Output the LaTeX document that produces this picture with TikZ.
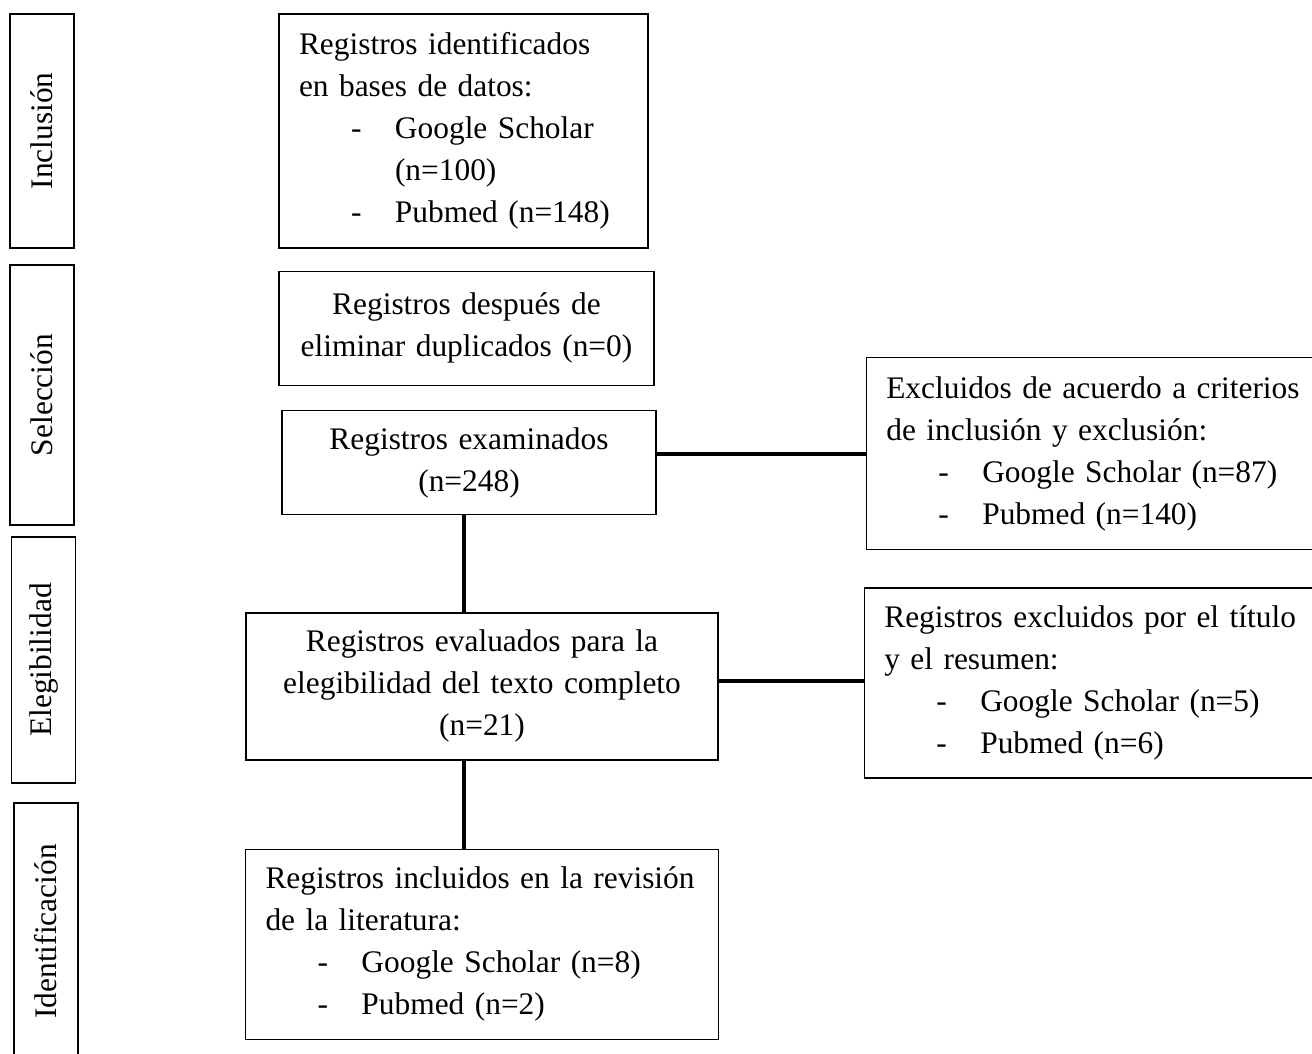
\documentclass[tikz,border=0pt]{standalone}
\usepackage{fontspec}
\setmainfont{Liberation Serif}
\usetikzlibrary{positioning}

\newcommand{\boxline}[1]{\mbox{#1}}
\newcommand{\itemline}[1]{\mbox{\makebox[48pt][l]{\hspace*{26pt}-}#1}}

\begin{document}
\begin{tikzpicture}[
    node distance=11pt,
    font=\fontsize{15.7}{21}\selectfont,
    stagebox/.style={draw=black, line width=0.9pt, rotate=90, inner sep=0pt,
                     minimum height=32pt},
    flowbox/.style={draw=black, line width=0.65pt, inner xsep=10pt, inner ysep=4pt},
    midbox/.style={flowbox, inner xsep=2pt, align=center},
    link/.style={line width=2pt}
]
\useasboundingbox (0,0) rectangle (656pt,-527pt);

% stages
\node[stagebox, minimum width=117pt] (inclusion) at (21pt,-65.5pt) {Inclusión};
\node[stagebox, minimum width=130pt] (seleccion) at (21pt,-197.5pt) {Selección};
\node[stagebox, minimum width=123pt] (elegibilidad) at (21.75pt,-330pt) {Elegibilidad};
\node[stagebox, minimum width=128.5pt] (identificacion) at (23pt,-465.75pt) {Identificación};

% main column
\node[flowbox, text width=164.5pt, minimum height=117pt, align=left] (ident) at (231.75pt,-65.5pt) {
    \boxline{Registros identificados}\\
    \boxline{en bases de datos:}\\
    \itemline{Google Scholar}\\
    \hspace*{48pt}(n=100)\\
    \itemline{Pubmed (n=148)}
};

\node[midbox, below=11pt of ident, xshift=1.5pt, text width=183.5pt, minimum height=57pt] (dup) {
    Registros después de\\
    eliminar duplicados (n=0)
};

\node[midbox, below=12pt of dup, xshift=1.25pt, text width=183pt, minimum height=52pt] (exam) {
    Registros examinados\\
    (n=248)
};

\node[midbox, below=48.5pt of exam, xshift=6.5pt, text width=232pt, minimum height=73.5pt] (eval) {
    Registros evaluados para la\\
    elegibilidad del texto completo\\
    (n=21)
};

\node[flowbox, below=44pt of eval, text width=216.5pt, minimum height=95pt, align=left] (incl) {
    \boxline{Registros incluidos en la revisión}\\
    \boxline{de la literatura:}\\
    \itemline{Google Scholar (n=8)}\\
    \itemline{Pubmed (n=2)}
};

% excluded
\node[flowbox, right=104.5pt of exam, yshift=4.5pt, text width=207.5pt, minimum height=96pt, align=left] (excl) {
    \boxline{Excluidos de acuerdo a criterios}\\
    \boxline{de inclusión y exclusión:}\\
    \itemline{Google Scholar (n=87)}\\
    \itemline{Pubmed (n=140)}
};

\node[flowbox, right=72.5pt of eval, yshift=1.75pt, text width=208.5pt, minimum height=95pt, align=left] (titulo) {
    \boxline{Registros excluidos por el título}\\
    \boxline{y el resumen:}\\
    \itemline{Google Scholar (n=5)}\\
    \itemline{Pubmed (n=6)}
};

% connectors
\draw[link] (exam.south -| ident.south) -- (eval.north -| ident.south);
\draw[link] (eval.south -| ident.south) -- (incl.north -| ident.south);
\draw[link] ([yshift=4.5pt]exam.east) -- ([yshift=4.5pt]exam.east -| excl.west);
\draw[link] ([yshift=2.5pt]eval.east) -- ([yshift=2.5pt]eval.east -| titulo.west);

\end{tikzpicture}
\end{document}
